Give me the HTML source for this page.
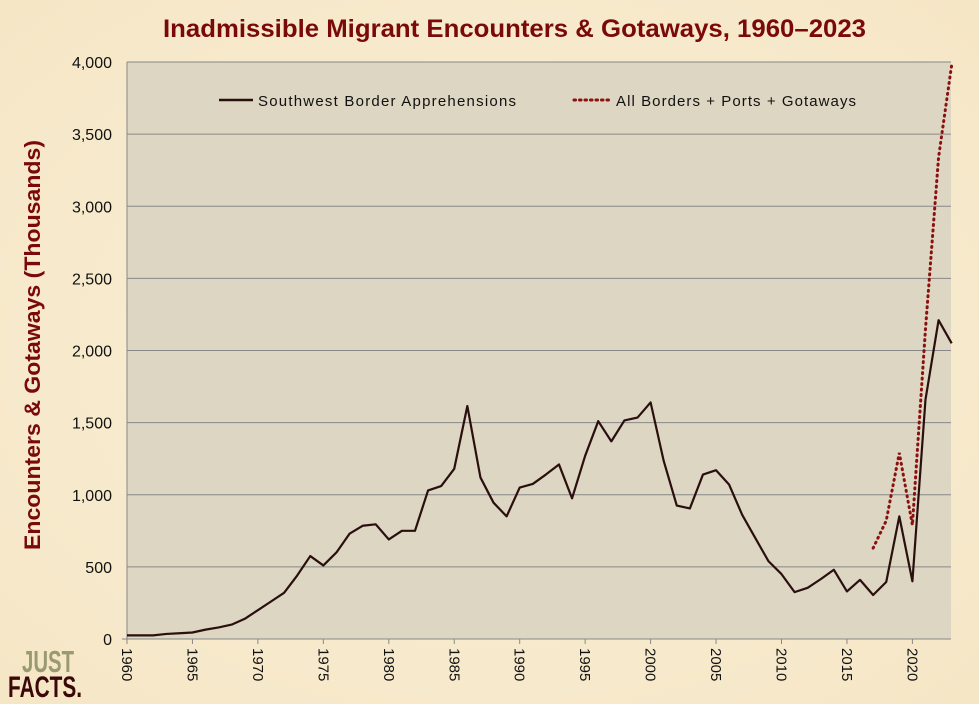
<!DOCTYPE html>
<html><head><meta charset="utf-8"><style>
html,body{margin:0;padding:0;}
body{width:979px;height:704px;background:#f8ecd0;overflow:hidden;font-family:"Liberation Sans",sans-serif;}
</style></head><body>
<svg id="s" width="979" height="704" xmlns="http://www.w3.org/2000/svg" style="position:absolute;left:0;top:0">
<defs><radialGradient id="bg" cx="50%" cy="50%" r="70%"><stop offset="0" stop-color="#fbf0d6"/><stop offset="1" stop-color="#f5e6c6"/></radialGradient></defs>
<rect width="979" height="704" fill="url(#bg)"/>
<text x="163" y="37" textLength="703" lengthAdjust="spacingAndGlyphs" font-family="Liberation Sans, sans-serif" font-weight="bold" font-size="25" fill="#7a0a0a">Inadmissible Migrant Encounters &amp; Gotaways, 1960–2023</text>
<rect x="127" y="62" width="824" height="577" fill="#ddd6c2"/>
<g id="grid" stroke="#888" stroke-width="1"></g>
<line x1="127" y1="62" x2="127" y2="639" stroke="#888"/>
<g id="ylab" font-size="16" fill="#111" text-anchor="end"></g>
<g id="xlab" font-size="15" fill="#111"></g>
<text transform="translate(40,550) rotate(-90)" textLength="410" lengthAdjust="spacingAndGlyphs" font-weight="bold" font-size="22" fill="#7a0a0a">Encounters &amp; Gotaways (Thousands)</text>
<line x1="219" y1="100" x2="253" y2="100" stroke="#2a0f0f" stroke-width="2.5"/>
<text x="258" y="106" font-size="15" fill="#111" textLength="258">Southwest Border Apprehensions</text>
<line x1="574" y1="100" x2="610" y2="100" stroke="#8b1010" stroke-width="3" stroke-dasharray="1.5 4" stroke-linecap="round"/>
<text x="616" y="106" font-size="15" fill="#111" textLength="240">All Borders + Ports + Gotaways</text>
<polyline id="solid" fill="none" stroke="#2a0f0f" stroke-width="2.2" stroke-linejoin="round"/>
<polyline id="dot" fill="none" stroke="#8b1010" stroke-width="3" stroke-dasharray="1 4.5" stroke-linecap="round"/>
<text x="22" y="672" textLength="52" lengthAdjust="spacingAndGlyphs" font-weight="bold" font-size="31" fill="#9a9a70">JUST</text>
<text x="8" y="697" textLength="74" lengthAdjust="spacingAndGlyphs" font-weight="bold" font-size="30" fill="#3a0808">FACTS.</text>
</svg>
<script>
var X=function(y){return 127+(y-1960)*13.09;},Y=function(v){return 639-v*0.14425;};
var ns="http://www.w3.org/2000/svg",g=document.getElementById('grid'),yl=document.getElementById('ylab'),xl=document.getElementById('xlab');
for(var v=0;v<=4000;v+=500){var l=document.createElementNS(ns,'line');l.setAttribute('x1',v==0?122:127);l.setAttribute('x2',951);l.setAttribute('y1',Y(v));l.setAttribute('y2',Y(v));g.appendChild(l);
var t=document.createElementNS(ns,'text');t.setAttribute('x',112);t.setAttribute('y',Y(v)+6);t.textContent=v.toLocaleString('en-US');yl.appendChild(t);}
for(var y=1960;y<=2020;y+=5){var x=X(y);var l=document.createElementNS(ns,'line');l.setAttribute('x1',x);l.setAttribute('x2',x);l.setAttribute('y1',639);l.setAttribute('y2',644);g.appendChild(l);
var t=document.createElementNS(ns,'text');t.setAttribute('transform','translate('+(x-5)+',648) rotate(90)');t.textContent=y;xl.appendChild(t);}
var d=[25,25,25,35,40,45,65,80,100,140,200,260,320,440,575,510,600,730,785,795,690,750,750,1030,1060,1180,1615,1120,945,850,1050,1075,1140,1210,975,1270,1510,1370,1515,1535,1640,1235,925,905,1140,1170,1070,860,700,540,450,325,355,415,480,330,410,305,395,850,400,1660,2210,2050];
document.getElementById('solid').setAttribute('points',d.map(function(v,i){return X(1960+i)+','+Y(v);}).join(' '));
var dd=[[2017,630],[2018,820],[2019,1290],[2020,790],[2021,2150],[2022,3340],[2023,3980]];
document.getElementById('dot').setAttribute('points',dd.map(function(p){return X(p[0])+','+Y(p[1]);}).join(' '));
</script>
</body></html>
